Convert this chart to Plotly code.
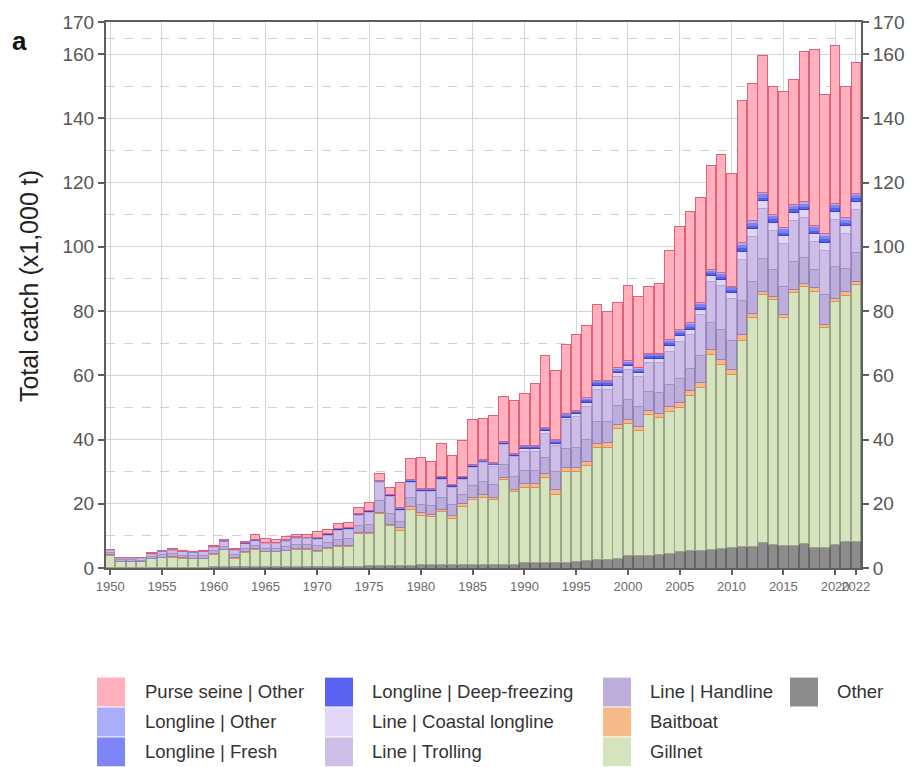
import plotly.graph_objects as go

# ---- data (x1,000 t) ----
years = list(range(1950, 2023))

other = [0.3, 0.3, 0.3, 0.3, 0.3, 0.3, 0.3, 0.3, 0.3, 0.3,
         0.4, 0.4, 0.4, 0.4, 0.4, 0.4, 0.4, 0.4, 0.4, 0.4,
         0.5, 0.5, 0.5, 0.5, 0.5, 0.8, 0.8, 0.8, 0.8, 0.8,
         1.0, 1.0, 1.0, 1.0, 1.0, 1.2, 1.2, 1.2, 1.2, 1.2,
         1.6, 1.6, 1.6, 1.6, 1.6, 2.0, 2.2, 2.6, 2.8, 3.0,
         3.8, 3.8, 3.9, 4.1, 4.6, 5.0, 5.3, 5.6, 5.9, 6.1,
         6.3, 6.6, 6.7, 8.0, 7.4, 7.0, 7.0, 7.5, 6.4, 6.5,
         7.3, 8.2, 8.2]

gillnet = [3.7, 1.7, 1.6, 1.6, 2.7, 3.0, 3.1, 2.8, 2.7, 2.7,
           3.9, 5.3, 2.7, 4.5, 5.4, 4.6, 4.6, 5.0, 5.4, 5.4,
           4.7, 5.5, 6.1, 6.3, 10.2, 10.0, 16.2, 12.4, 11.0, 17.5,
           15.5, 15.0, 16.5, 14.5, 18.3, 20.0, 20.9, 20.1, 26.3, 22.5,
           23.6, 23.6, 26.7, 21.3, 28.4, 28.0, 29.7, 34.9, 34.8, 40.3,
           41.1, 39.0, 43.8, 42.7, 44.2, 45.0, 48.4, 50.6, 60.7, 57.4,
           54.1, 64.1, 71.3, 77.2, 76.2, 71.0, 78.7, 80.0, 79.8, 68.3,
           75.7, 76.8, 80.1]

baitboat = [0.1, 0.1, 0.1, 0.1, 0.1, 0.1, 0.1, 0.1, 0.1, 0.1,
            0.2, 0.2, 0.2, 0.2, 0.2, 0.2, 0.2, 0.2, 0.2, 0.2,
            0.3, 0.3, 0.3, 0.3, 0.3, 0.3, 0.3, 0.3, 0.7, 0.7,
            0.7, 0.7, 0.7, 0.7, 0.7, 0.7, 0.7, 0.7, 0.7, 0.7,
            1.2, 1.2, 1.2, 1.5, 1.2, 1.2, 1.4, 1.4, 1.4, 1.4,
            1.4, 1.4, 1.4, 1.4, 1.5, 1.5, 1.5, 1.5, 1.5, 1.5,
            1.5, 2.0, 1.2, 1.0, 1.0, 1.0, 1.0, 1.0, 1.0, 1.0,
            1.0, 1.0, 1.0]

handline = [0.6, 0.4, 0.5, 0.4, 0.5, 0.7, 0.9, 0.8, 0.7, 0.8,
            0.8, 0.9, 0.9, 1.0, 1.0, 1.0, 1.0, 1.1, 1.3, 1.3,
            1.4, 1.6, 2.0, 2.0, 2.2, 2.5, 3.7, 3.6, 2.1, 3.0,
            2.6, 2.8, 3.8, 3.6, 3.0, 3.7, 4.0, 3.9, 4.1, 4.1,
            4.0, 4.0, 5.0, 5.5, 6.0, 6.4, 6.8, 6.7, 6.7, 6.0,
            6.2, 6.2, 6.0, 6.4, 6.8, 7.6, 7.0, 8.4, 8.4, 9.2,
            8.8, 10.6, 10.0, 10.3, 8.2, 8.8, 8.6, 8.2, 5.8, 9.3,
            9.8, 7.2, 9.0]

trolling = [0.9, 0.6, 0.6, 0.7, 0.7, 1.0, 1.2, 1.0, 1.0, 1.1,
            1.1, 1.3, 1.3, 1.4, 1.5, 1.4, 1.4, 1.7, 2.0, 1.9,
            2.0, 2.3, 2.9, 3.0, 3.2, 3.8, 5.5, 5.3, 3.2, 4.5,
            3.9, 4.2, 5.6, 5.3, 4.6, 5.6, 5.9, 5.8, 6.1, 6.1,
            6.0, 6.0, 7.5, 8.2, 9.0, 9.6, 10.2, 10.1, 10.0, 8.9,
            9.2, 9.2, 9.0, 9.5, 10.3, 11.4, 10.4, 12.7, 12.7, 13.9,
            13.3, 12.9, 14.0, 15.5, 12.4, 13.3, 13.0, 12.4, 8.7, 13.9,
            14.8, 10.8, 13.4]

coastal_longline = [0.1, 0.1, 0.1, 0.1, 0.1, 0.1, 0.1, 0.1, 0.1, 0.1,
                    0.2, 0.2, 0.2, 0.2, 0.2, 0.2, 0.2, 0.2, 0.2, 0.2,
                    0.3, 0.3, 0.3, 0.3, 0.3, 0.3, 0.3, 0.3, 0.4, 0.4,
                    0.4, 0.4, 0.4, 0.4, 0.4, 0.4, 0.4, 0.4, 0.4, 0.4,
                    0.8, 0.8, 0.8, 0.8, 0.8, 0.8, 1.2, 1.2, 1.2, 1.2,
                    1.2, 1.2, 1.2, 1.2, 1.8, 1.8, 1.8, 1.8, 1.8, 1.8,
                    1.8, 2.5, 2.5, 2.5, 2.5, 2.5, 2.5, 2.5, 2.5, 2.5,
                    2.5, 2.5, 2.5]

ll_deep_freezing = [0.0, 0.0, 0.0, 0.0, 0.0, 0.0, 0.0, 0.0, 0.0, 0.0,
                    0.0, 0.0, 0.0, 0.0, 0.0, 0.0, 0.0, 0.0, 0.0, 0.0,
                    0.1, 0.1, 0.1, 0.1, 0.1, 0.1, 0.1, 0.1, 0.2, 0.2,
                    0.2, 0.2, 0.2, 0.2, 0.2, 0.2, 0.2, 0.2, 0.2, 0.2,
                    0.3, 0.3, 0.3, 0.3, 0.3, 0.3, 0.5, 0.5, 0.5, 0.5,
                    0.5, 0.5, 0.5, 0.5, 0.6, 0.6, 0.6, 0.6, 0.6, 0.6,
                    0.6, 0.7, 0.7, 0.7, 0.7, 0.7, 0.7, 0.7, 0.7, 0.7,
                    0.7, 0.7, 0.7]

ll_fresh = [0.05, 0.05, 0.05, 0.05, 0.05, 0.05, 0.05, 0.05, 0.05, 0.05,
            0.1, 0.1, 0.1, 0.1, 0.1, 0.1, 0.1, 0.1, 0.1, 0.1,
            0.1, 0.1, 0.1, 0.1, 0.1, 0.1, 0.1, 0.1, 0.2, 0.2,
            0.2, 0.2, 0.2, 0.2, 0.2, 0.2, 0.2, 0.2, 0.2, 0.2,
            0.4, 0.4, 0.4, 0.4, 0.4, 0.4, 0.6, 0.6, 0.6, 0.6,
            0.6, 0.6, 0.6, 0.6, 0.8, 0.8, 0.8, 0.8, 0.8, 0.8,
            0.8, 1.0, 1.0, 1.0, 1.0, 1.0, 1.0, 1.0, 1.0, 1.0,
            1.0, 1.0, 1.0]

ll_other = [0.05, 0.05, 0.05, 0.05, 0.05, 0.05, 0.05, 0.05, 0.05, 0.05,
            0.1, 0.1, 0.1, 0.1, 0.1, 0.1, 0.1, 0.1, 0.1, 0.1,
            0.1, 0.1, 0.1, 0.1, 0.1, 0.1, 0.1, 0.1, 0.2, 0.2,
            0.2, 0.2, 0.2, 0.2, 0.2, 0.2, 0.2, 0.2, 0.2, 0.2,
            0.3, 0.3, 0.3, 0.3, 0.3, 0.3, 0.5, 0.5, 0.5, 0.5,
            0.5, 0.5, 0.5, 0.5, 0.6, 0.6, 0.6, 0.6, 0.6, 0.6,
            0.6, 0.8, 0.8, 0.8, 0.8, 0.8, 0.8, 0.8, 0.8, 0.8,
            0.8, 0.8, 0.8]

purse_seine = [0.1, 0.1, 0.1, 0.1, 0.2, 0.2, 0.2, 0.2, 0.2, 0.2,
               0.3, 0.4, 0.3, 0.5, 1.5, 1.1, 1.0, 1.0, 0.8, 0.9,
               1.8, 1.2, 1.5, 1.5, 1.8, 2.3, 2.4, 2.0, 7.7, 6.7,
               9.8, 8.6, 10.3, 8.9, 11.1, 13.9, 12.7, 14.8, 14.0, 16.7,
               16.0, 19.4, 22.3, 21.7, 21.5, 23.8, 22.3, 23.6, 21.5, 20.4,
               23.5, 22.0, 20.9, 21.7, 27.8, 32.0, 34.6, 32.8, 32.3, 36.7,
               35.1, 44.3, 42.6, 42.6, 39.6, 42.2, 38.9, 46.6, 54.8, 43.5,
               49.1, 40.8, 40.6]

# stacking order, bottom to top: (name, values, fill, outline)
series = [
    ("Other", other, "#8c8c8c", "#666666"),
    ("Gillnet", gillnet, "#d5e4bc", "#98a58a"),
    ("Baitboat", baitboat, "#f6ba88", "#d9925c"),
    ("Line | Handline", handline, "#bdadda", "#9282b8"),
    ("Line | Trolling", trolling, "#cdbde7", "#a291c6"),
    ("Line | Coastal longline", coastal_longline, "#e1d6f5", "#b4a5d6"),
    ("Longline | Deep-freezing", ll_deep_freezing, "#5a62f2", "#3a41cc"),
    ("Longline | Fresh", ll_fresh, "#7e85f6", "#5a61dc"),
    ("Longline | Other", ll_other, "#a8aef9", "#7f86e4"),
    ("Purse seine | Other", purse_seine, "#ffb0bc", "#e0607a"),
]

# legend columns (column-major, top of stack first)
legend_columns = [
    ["Purse seine | Other", "Longline | Other", "Longline | Fresh"],
    ["Longline | Deep-freezing", "Line | Coastal longline", "Line | Trolling"],
    ["Line | Handline", "Baitboat", "Gillnet"],
    ["Other"],
]

y_ticks = [0, 20, 40, 60, 80, 100, 120, 140, 160, 170]
y_minor = [10, 30, 50, 70, 90, 110, 130, 150, 165]
x_ticks = [1950, 1955, 1960, 1965, 1970, 1975, 1980, 1985, 1990, 1995,
           2000, 2005, 2010, 2015, 2020, 2022]

W, H = 917, 767
L_PX, R_PX, T_PX, B_PX = 106, 861, 20, 568


def px_x(px):
    return (px - L_PX) / (R_PX - L_PX)


def px_y(py):
    return (B_PX - py) / (B_PX - T_PX)


fig = go.Figure()
for name, vals, fill, edge in series:
    fig.add_trace(go.Bar(
        x=years, y=vals, name=name, showlegend=False,
        marker=dict(color=fill, line=dict(color=edge, width=1)),
    ))

font_family = "Liberation Sans, Arial, sans-serif"
axis_grey = "#5e5e5e"

fig.update_layout(
    width=W, height=H,
    margin=dict(l=L_PX, r=W - R_PX, t=T_PX, b=H - B_PX),
    barmode="stack", bargap=0.08,
    plot_bgcolor="white", paper_bgcolor="white",
    font=dict(family=font_family, color="#333333"),
    xaxis=dict(
        range=[1949.6, 2022.5], tickmode="array", tickvals=x_ticks,
        ticktext=[str(v) for v in x_ticks], tickangle=0,
        tickfont=dict(size=13, color="#6a6a6a"),
        ticks="outside", ticklen=5, tickwidth=2, tickcolor=axis_grey,
        showgrid=True, gridcolor="#d4d4d4", gridwidth=1.2,
        showline=True, linecolor=axis_grey, linewidth=2, mirror=True,
        zeroline=False,
    ),
    yaxis=dict(
        range=[0, 170], tickmode="array", tickvals=y_ticks,
        tickfont=dict(size=19, color="#555555"),
        ticks="outside", ticklen=6, tickwidth=2, tickcolor=axis_grey,
        showgrid=True, gridcolor="#d4d4d4", gridwidth=1.2,
        minor=dict(tickmode="array", tickvals=y_minor, showgrid=True,
                   gridcolor="#d0d0d0", griddash="dash", gridwidth=1.2,
                   ticks=""),
        showline=True, linecolor=axis_grey, linewidth=2,
        zeroline=False,
    ),
    yaxis2=dict(
        overlaying="y", side="right", anchor="x",
        range=[0, 170], tickmode="array", tickvals=y_ticks,
        tickfont=dict(size=19, color="#555555"),
        ticks="outside", ticklen=6, tickwidth=2, tickcolor=axis_grey,
        showgrid=False, showline=True, linecolor=axis_grey, linewidth=2,
        zeroline=False,
    ),
)

# right-hand axis carries a hidden copy of the totals so it is rendered
totals = [sum(v[i] for _, v, _, _ in series) for i in range(len(years))]
fig.add_trace(go.Scatter(x=years, y=totals, yaxis="y2", mode="lines",
                         line=dict(width=0), opacity=0, showlegend=False,
                         hoverinfo="skip"))

annotations = [
    dict(text="Total catch (x1,000 t)", textangle=-90, showarrow=False,
         xref="paper", yref="paper", x=px_x(29), y=px_y(285),
         xanchor="center", yanchor="middle",
         font=dict(size=25, color="#222222")),
    dict(text="<b>a</b>", showarrow=False, xref="paper", yref="paper",
         x=px_x(10), y=px_y(39), xanchor="left", yanchor="middle",
         font=dict(size=26, color="#111111")),
]

# legend drawn as swatches + labels below the plot
shapes = []
colors = {name: fill for name, _, fill, _ in series}
col_swatch_px = [97, 325, 603, 790]
col_text_px = [143, 370, 648, 835]
row_top_px = [678, 708, 738]
sw_w, sw_h = 28, 29
for c, names in enumerate(legend_columns):
    for r, name in enumerate(names):
        top = row_top_px[r]
        shapes.append(dict(
            type="rect", xref="paper", yref="paper",
            x0=px_x(col_swatch_px[c]), x1=px_x(col_swatch_px[c] + sw_w),
            y0=px_y(top + sw_h), y1=px_y(top),
            fillcolor=colors[name], line=dict(width=0), layer="above",
        ))
        annotations.append(dict(
            text=name, showarrow=False, xref="paper", yref="paper",
            x=px_x(col_text_px[c]), y=px_y(top + 14),
            xanchor="left", yanchor="middle",
            font=dict(size=18.5, color="#333333"),
        ))

fig.update_layout(annotations=annotations, shapes=shapes)

fig.write_html("out.html")
